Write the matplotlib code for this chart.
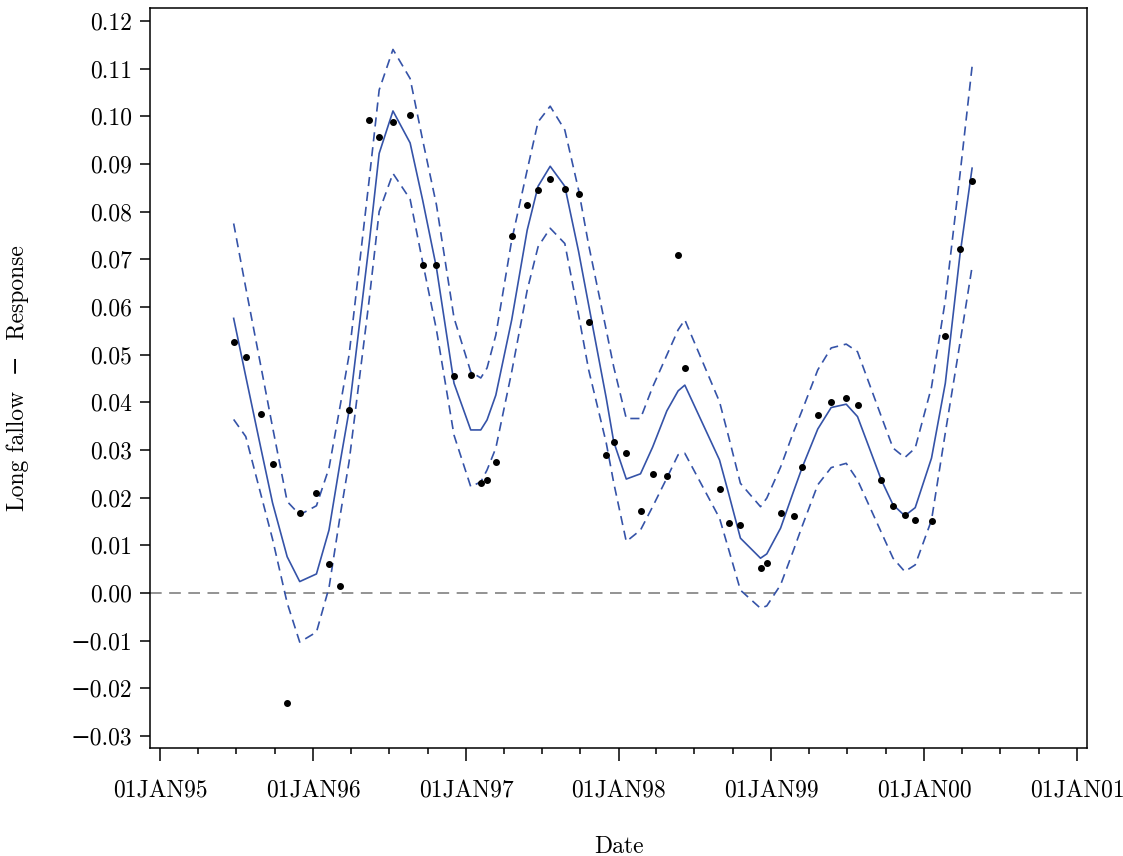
import matplotlib
matplotlib.use("Agg")
import matplotlib.pyplot as plt
import matplotlib.dates as mdates
from matplotlib.ticker import FuncFormatter, MultipleLocator
import numpy as np
import pandas as pd

# observation dates (fit is evaluated at the same dates)
dates = [
    "1995-06-25", "1995-07-24", "1995-08-29", "1995-09-26", "1995-10-31", "1995-11-30",
    "1996-01-09", "1996-02-08", "1996-03-06", "1996-03-27", "1996-05-14", "1996-06-07",
    "1996-07-10", "1996-08-20", "1996-09-19", "1996-10-22", "1996-12-03", "1997-01-12",
    "1997-02-05", "1997-02-20", "1997-03-13", "1997-04-20", "1997-05-27", "1997-06-22",
    "1997-07-21", "1997-08-25", "1997-09-27", "1997-10-21", "1997-12-02", "1997-12-20",
    "1998-01-19", "1998-02-22", "1998-03-23", "1998-04-26", "1998-05-23", "1998-06-08",
    "1998-08-30", "1998-09-21", "1998-10-19", "1998-12-06", "1998-12-21", "1999-01-23",
    "1999-02-23", "1999-03-16", "1999-04-22", "1999-05-24", "1999-06-29", "1999-07-26",
    "1999-09-21", "1999-10-19", "1999-11-16", "1999-12-11", "2000-01-19", "2000-02-21",
    "2000-03-27", "2000-04-25",
]

response = [
    0.0526, 0.0494, 0.0375, 0.0271, -0.0231, 0.0167,
    0.0209, 0.0060, 0.0015, 0.0384, 0.0992, 0.0957,
    0.0987, 0.1002, 0.0687, 0.0687, 0.0456, 0.0457,
    0.0231, 0.0237, 0.0274, 0.0749, 0.0814, 0.0846,
    0.0868, 0.0848, 0.0837, 0.0568, 0.0289, 0.0317,
    0.0293, 0.0171, 0.0249, 0.0245, 0.0709, 0.0472,
    0.0218, 0.0146, 0.0142, 0.0053, 0.0062, 0.0168,
    0.0162, 0.0265, 0.0373, 0.0401, 0.0408, 0.0395,
    0.0238, 0.0182, 0.0163, 0.0154, 0.0151, 0.0539,
    0.0722, 0.0865,
]

fit = [
    0.0576, 0.0454, 0.0304, 0.0189, 0.0076, 0.0024,
    0.0040, 0.0132, 0.0276, 0.0382, 0.0732, 0.0922,
    0.1011, 0.0944, 0.0824, 0.0682, 0.0440, 0.0342,
    0.0342, 0.0363, 0.0415, 0.0573, 0.0761, 0.0853,
    0.0895, 0.0853, 0.0716, 0.0604, 0.0409, 0.0317,
    0.0239, 0.0250, 0.0306, 0.0382, 0.0424, 0.0436,
    0.0279, 0.0208, 0.0115, 0.0073, 0.0082, 0.0136,
    0.0213, 0.0264, 0.0344, 0.0389, 0.0396, 0.0370,
    0.0237, 0.0185, 0.0162, 0.0179, 0.0283, 0.0440,
    0.0709, 0.0891,
]

upper = [
    0.0775, 0.0640, 0.0476, 0.0348, 0.0192, 0.0164,
    0.0183, 0.0262, 0.0394, 0.0499, 0.0866, 0.1055,
    0.1140, 0.1079, 0.0950, 0.0814, 0.0577, 0.0464,
    0.0451, 0.0472, 0.0541, 0.0740, 0.0887, 0.0988,
    0.1021, 0.0971, 0.0845, 0.0730, 0.0552, 0.0474,
    0.0366, 0.0366, 0.0432, 0.0499, 0.0552, 0.0573,
    0.0401, 0.0327, 0.0230, 0.0181, 0.0199, 0.0264,
    0.0338, 0.0384, 0.0468, 0.0514, 0.0522, 0.0506,
    0.0370, 0.0304, 0.0284, 0.0304, 0.0432, 0.0614,
    0.0877, 0.1104,
]

lower = [
    0.0364, 0.0328, 0.0207, 0.0113, -0.0021, -0.0103,
    -0.0082, 0.0011, 0.0164, 0.0275, 0.0614, 0.0800,
    0.0880, 0.0826, 0.0694, 0.0552, 0.0331, 0.0223,
    0.0233, 0.0258, 0.0304, 0.0464, 0.0635, 0.0726,
    0.0765, 0.0733, 0.0583, 0.0468, 0.0315, 0.0231,
    0.0108, 0.0132, 0.0181, 0.0241, 0.0290, 0.0293,
    0.0157, 0.0091, 0.0006, -0.0032, -0.0027, 0.0017,
    0.0090, 0.0141, 0.0227, 0.0263, 0.0272, 0.0237,
    0.0127, 0.0073, 0.0045, 0.0059, 0.0153, 0.0336,
    0.0524, 0.0684,
]

x_start = "1994-12-07"
x_end = "2001-01-25"
y_min, y_max = -0.0325, 0.1227

plt.rcParams['font.family'] = ['cmr10', 'DejaVu Serif']
plt.rcParams['axes.unicode_minus'] = False

blue = '#3553a8'

t = pd.to_datetime(dates)

fig = plt.figure(figsize=(11.23, 8.56), dpi=100)
ax = fig.add_axes([0.1336, 0.1262, 0.968 - 0.1336, 0.9907 - 0.1262])

ax.axhline(0.0, color='#808080', lw=1.2, ls=(0, (7, 4.5)), zorder=1)
ax.plot(t, upper, color=blue, lw=1.2, ls=(0, (5.5, 3.5)), zorder=2)
ax.plot(t, lower, color=blue, lw=1.2, ls=(0, (5.5, 3.5)), zorder=2)
ax.plot(t, fit, color=blue, lw=1.2, zorder=3)
ax.plot(t, response, 'o', color='black', ms=4, zorder=4)

ax.set_xlim(pd.Timestamp(x_start), pd.Timestamp(x_end))
ax.set_ylim(y_min, y_max)

ax.xaxis.set_major_locator(mdates.YearLocator())
ax.xaxis.set_minor_locator(mdates.MonthLocator(bymonth=[4, 7, 10]))
ax.xaxis.set_major_formatter(
    FuncFormatter(lambda v, p: mdates.num2date(v).strftime('%d%b%y').upper()))

ax.yaxis.set_major_locator(MultipleLocator(0.01))


def yfmt(v, p):
    if abs(v) < 1e-9:
        return '0.00'
    if v < 0:
        return '\u2212' + '%.2f' % abs(v)
    return '%.2f' % v


ax.yaxis.set_major_formatter(FuncFormatter(yfmt))

for s in ax.spines.values():
    s.set_linewidth(1.1)

ax.tick_params(axis='y', which='major', length=7, width=1.1, pad=6, labelsize=17)
ax.tick_params(axis='x', which='major', length=9, width=1.1, pad=14, labelsize=17)
ax.tick_params(axis='x', which='minor', length=4.5, width=1.1)

ax.set_xlabel('Date', fontsize=17, labelpad=24)
ax.set_ylabel('Long fallow  \u2212  Response', fontsize=17, labelpad=30)

fig.savefig('out.png', dpi=100)
